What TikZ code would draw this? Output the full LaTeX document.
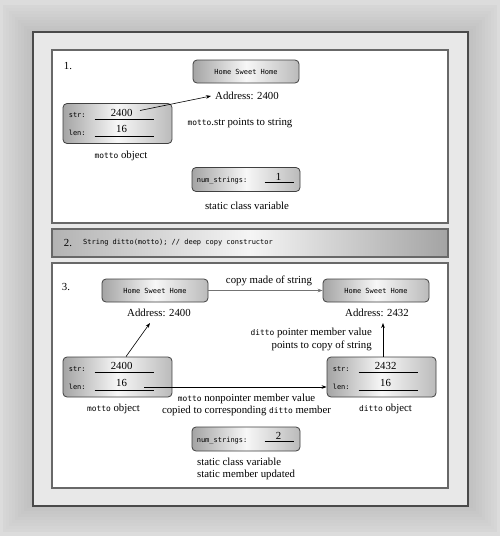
\documentclass[tikz,border=0pt]{standalone}
\usepackage{fontspec}
\setmainfont{Liberation Serif}
\setmonofont{DejaVu Sans Mono}
\usetikzlibrary{arrows.meta,calc}
\definecolor{bgouter}{HTML}{DCDCDC}
\definecolor{framefill}{HTML}{E8E8E8}
\definecolor{frameline}{HTML}{4A4A4A}
\definecolor{panelline}{HTML}{686868}
\definecolor{boxdark}{HTML}{A4A4A4}
\definecolor{boxlight}{HTML}{F7F7F7}
\newcommand{\mcode}[1]{{\fontsize{7.9}{9}\ttfamily #1}}
\tikzset{
  txt/.style={font=\fontsize{10.8}{12.5}\selectfont, inner sep=0pt},
  boxtxt/.style={font=\fontsize{7}{8}\ttfamily, inner sep=0pt},
  strbox/.style={draw=black!75, line width=0.8pt, rounded corners=4pt,
    left color=boxdark, right color=boxdark!75, middle color=boxlight,
    minimum width=106pt, minimum height=23pt, inner sep=0pt,
    font=\fontsize{7}{8}\ttfamily},
  objbox/.style={strbox, minimum width=109pt, minimum height=40pt},
  numbox/.style={strbox, minimum width=108pt, minimum height=24pt},
  panel/.style={draw=panelline, line width=1.2pt, fill=white},
  arr/.style={-{Stealth[length=5pt,width=3.6pt]}, line width=0.6pt},
  uline/.style={line width=0.6pt}
}
\begin{document}
\begin{tikzpicture}[x=1pt,y=-1pt]
\useasboundingbox (0,0) rectangle (500,536);
% background and frame
\fill[bgouter] (0,0) rectangle (500,536);
\foreach \i in {0,...,9}
  \fill[black!\the\numexpr 16+\i\relax] (3+3*\i,5+3*\i) rectangle (497-3*\i,532-3*\i);
\draw[frameline, line width=1.6pt, fill=framefill] (33,32) rectangle (468,506);
\draw[panel] (52,50) rectangle (448,223);
\draw[panelline, line width=1.2pt, left color=black!30, right color=black!36, middle color=black!4] (52,229) rectangle (448,257);
\draw[panel] (52,263) rectangle (448,488);

% 1.
\node[txt] (lbl1) at (68,66) {1.};
\node[strbox] (h1) at (246,71.5) {Home Sweet Home};
\node[txt] (a1) at (247,96) {Address: 2400};
\node[objbox] (m1) at (117.5,123.5) {};
\node[txt] (t1) at (240,123) {\mcode{motto}.str points to string};
\node[txt] (o1) at (121,156) {\mcode{motto} object};
\node[numbox] (n1) at (246,179.5) {};
\node[txt] (s1) at (247,206) {static class variable};
\coordinate (p1) at (140,110.5);
\draw[arr] (p1) -- ([xshift=-4pt]a1.west);

% 2.
\node[txt] (lbl2) at (68,243) {2.};
\node[boxtxt, anchor=west] (c2) at (83,243) {String ditto(motto); // deep copy constructor};

% 3.
\node[txt] (lbl3) at (66,287) {3.};
\node[strbox] (h2) at (155,290.5) {Home Sweet Home};
\node[strbox] (h3) at (376,290.5) {Home Sweet Home};
\node[txt] (cp) at (269,281) {copy made of string};
\draw[arr, black!55] (h2) -- (h3);
\node[txt] (a2) at (159,313) {Address: 2400};
\node[txt] (a3) at (377,313) {Address: 2432};
\node[txt, align=right, anchor=east, font=\fontsize{10.8}{13}\selectfont] (t3) at (372,339.5) {\mcode{ditto} pointer member value\\points to copy of string};
\node[objbox] (m3) at (117.5,377) {};
\node[objbox] (d3) at (381.5,377) {};
\coordinate (q2) at (150,323);
\coordinate (q3) at (383,323);
\coordinate (p3) at (144,387);
\draw[arr] ([xshift=8.5pt]m3.north) -- (q2);
\draw[arr] (d3.north -| q3) -- (q3);
\draw[arr] (p3) -- (p3 -| d3.west);
\node[txt] (o3) at (113.5,409) {\mcode{motto} object};
\node[txt, align=center, font=\fontsize{10.8}{12}\selectfont] (t4) at (246.5,404.5) {\mcode{motto} nonpointer member value\\copied to corresponding \mcode{ditto} member};
\node[txt] (o4) at (385.5,409) {\mcode{ditto} object};
\node[numbox] (n2) at (246,439) {};
\node[txt, align=left, anchor=west, font=\fontsize{10.8}{12}\selectfont] (s3) at (197,469) {static class variable\\static member updated};

% record fields
\foreach \b/\v in {m1/2400,m3/2400,d3/2432} {
  \node[boxtxt, anchor=west] (\b str) at ($(\b.north west)+(6,12)$) {str:};
  \node[boxtxt, anchor=west] (\b len) at ($(\b.north west)+(6,30)$) {len:};
  \node[txt] (\b sv) at ($(\b.north west)+(59,9.5)$) {\v};
  \node[txt] (\b lv) at ($(\b.north west)+(59,26)$) {16};
  \draw[uline] ($(\b.north west)+(32,16)$) -- +(59,0);
  \draw[uline] ($(\b.north west)+(32,33.5)$) -- +(59,0);
}
\foreach \b/\v in {n1/1,n2/2} {
  \node[boxtxt, anchor=west] (\b lbl) at ($(\b.west)+(5,1.5)$) {num\_strings:};
  \node[txt] (\b val) at ($(\b.north west)+(87,9.5)$) {\v};
  \draw[uline] ($(\b.north west)+(73,15)$) -- +(29,0);
}
\end{tikzpicture}
\end{document}
